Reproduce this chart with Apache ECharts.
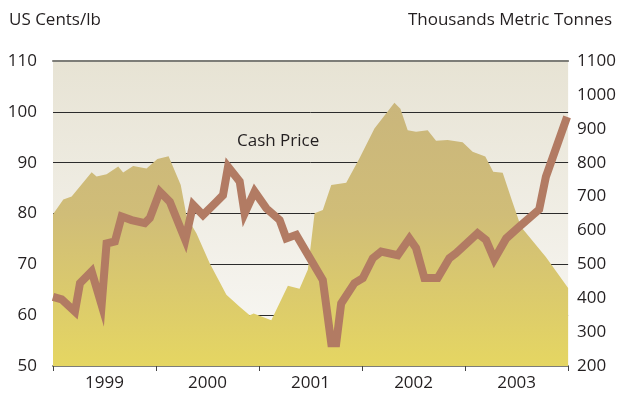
<!DOCTYPE html>
<html>
<head>
<meta charset="utf-8">
<script src="https://cdn.jsdelivr.net/npm/echarts@6/dist/echarts.min.js"></script>
<style>
  html, body { margin: 0; padding: 0; background: #fff; }
  #chart { width: 619px; height: 400px; }
</style>
</head>
<body>
<div id="chart"></div>
<script>
// years on the category axis
const years = ['1999', '2000', '2001', '2002', '2003'];

// cash price, US cents/lb  [decimal year, value]
const cashPrice = [
  [1999.000, 63.6], [1999.084, 63.1], [1999.213, 60.7], [1999.262, 66.3],
  [1999.375, 68.6], [1999.472, 62.0], [1999.520, 74.1], [1999.601, 74.5],
  [1999.666, 79.4], [1999.763, 78.7], [1999.891, 78.1], [1999.940, 79.1],
  [2000.037, 84.3], [2000.134, 82.3], [2000.284, 74.8], [2000.360, 81.7],
  [2000.456, 79.7], [2000.586, 82.3], [2000.650, 83.6], [2000.699, 89.2],
  [2000.812, 86.3], [2000.860, 80.0], [2000.957, 84.3], [2001.071, 81.0],
  [2001.200, 78.7], [2001.265, 75.1], [2001.361, 75.8], [2001.619, 66.9],
  [2001.701, 54.5], [2001.749, 54.5], [2001.797, 62.3], [2001.926, 66.3],
  [2002.007, 67.3], [2002.104, 71.2], [2002.185, 72.5], [2002.346, 71.8],
  [2002.459, 75.1], [2002.524, 73.2], [2002.605, 67.3], [2002.734, 67.3],
  [2002.847, 71.2], [2002.912, 72.2], [2003.121, 76.1], [2003.203, 74.8],
  [2003.283, 71.0], [2003.399, 75.1], [2003.525, 77.4], [2003.719, 80.8],
  [2003.784, 87.2], [2003.990, 99.0]
];

// inventory, thousands metric tonnes  [decimal year, value]
const inventory = [
  [1999.000, 648], [1999.100, 691], [1999.181, 700], [1999.375, 772],
  [1999.423, 759], [1999.520, 766], [1999.633, 789], [1999.681, 771],
  [1999.778, 790], [1999.908, 783], [2000.013, 811], [2000.122, 819],
  [2000.240, 734], [2000.298, 640], [2000.392, 592], [2000.521, 503],
  [2000.683, 410], [2000.812, 375], [2000.909, 350], [2000.948, 355],
  [2001.119, 335], [2001.280, 437], [2001.393, 428], [2001.474, 485],
  [2001.539, 651], [2001.619, 660], [2001.701, 734], [2001.846, 741],
  [2001.975, 813], [2002.120, 901], [2002.314, 977], [2002.372, 959],
  [2002.443, 896], [2002.524, 891], [2002.637, 896], [2002.718, 865],
  [2002.830, 867], [2002.976, 860], [2003.073, 832], [2003.196, 818],
  [2003.273, 773], [2003.365, 770], [2003.453, 690], [2003.542, 611],
  [2003.784, 522], [2004.000, 430]
];

const textColor = '#231f20';
const font = 'Open Sans, Noto Sans, sans-serif';

const myChart = echarts.init(document.getElementById('chart'));
const option = {
  animation: false,
  backgroundColor: '#fff',
  title: [
    { text: 'US Cents/lb', left: 4, top: 7,
      textStyle: { color: textColor, fontSize: 17, fontWeight: 'normal', fontFamily: font } },
    { text: 'Thousands Metric Tonnes', right: 2, top: 7,
      textStyle: { color: textColor, fontSize: 17, fontWeight: 'normal', fontFamily: font } }
  ],
  grid: {
    left: 53, right: 50, top: 61, bottom: 34,
    show: true,
    borderWidth: 0,
    backgroundColor: {
      type: 'linear', x: 0, y: 0, x2: 0, y2: 1,
      colorStops: [
        { offset: 0, color: '#e7e3d4' },
        { offset: 1, color: '#f9f8f5' }
      ]
    }
  },
  xAxis: [
    {
      type: 'category',
      data: years,
      boundaryGap: true,
      axisLine: { lineStyle: { color: '#7d7d78', width: 2 } },
      axisTick: { show: true, length: 5, lineStyle: { color: '#444', width: 1 } },
      axisLabel: { color: textColor, fontSize: 17, fontFamily: font, margin: 9 },
      splitLine: { show: false }
    },
    {
      type: 'value',
      position: 'top',
      min: 1999,
      max: 2004,
      axisLine: { show: true, lineStyle: { color: '#7d7d78', width: 2 } },
      axisTick: { show: false },
      axisLabel: { show: false },
      splitLine: { show: false }
    }
  ],
  yAxis: [
    {
      type: 'value',
      min: 50,
      max: 110,
      interval: 10,
      axisLine: { show: false },
      axisTick: { show: false },
      axisLabel: { color: textColor, fontSize: 17, fontFamily: font, margin: 16,
        showMinLabel: true, showMaxLabel: true },
      splitLine: { show: true, lineStyle: { color: '#2b2b2b', width: 1 } }
    },
    {
      type: 'value',
      min: 200,
      max: 1100,
      interval: 100,
      position: 'right',
      axisLine: { show: false },
      axisTick: { show: false },
      axisLabel: { color: textColor, fontSize: 17, fontFamily: font, margin: 9,
        padding: [0, 0, 10, 0], showMinLabel: true, showMaxLabel: true,
        formatter: function (v) { return String(v); } },
      splitLine: { show: false }
    }
  ],
  graphic: [
    { type: 'text', left: 237, top: 133,
      style: { text: 'Cash Price', fill: textColor, font: '17px ' + font } },
    { type: 'text', left: 403, top: 318,
      style: { text: 'Inventory', fill: textColor, font: '17px ' + font } }
  ],
  series: [
    {
      name: 'Inventory',
      type: 'line',
      xAxisIndex: 1,
      yAxisIndex: 1,
      symbol: 'none',
      lineStyle: { width: 0 },
      areaStyle: {
        opacity: 1,
        color: {
          type: 'linear', x: 0, y: 90, x2: 0, y2: 366, global: true,
          colorStops: [
            { offset: 0, color: '#c9b57c' },
            { offset: 0.45, color: '#d0bd78' },
            { offset: 1, color: '#e5d662' }
          ]
        }
      },
      data: inventory
    },
    {
      name: 'Cash Price',
      type: 'line',
      xAxisIndex: 1,
      yAxisIndex: 0,
      symbol: 'none',
      lineStyle: { width: 8, color: '#b27b63', join: 'miter', cap: 'butt' },
      data: cashPrice
    }
  ]
};
myChart.setOption(option);
</script>
</body>
</html>
